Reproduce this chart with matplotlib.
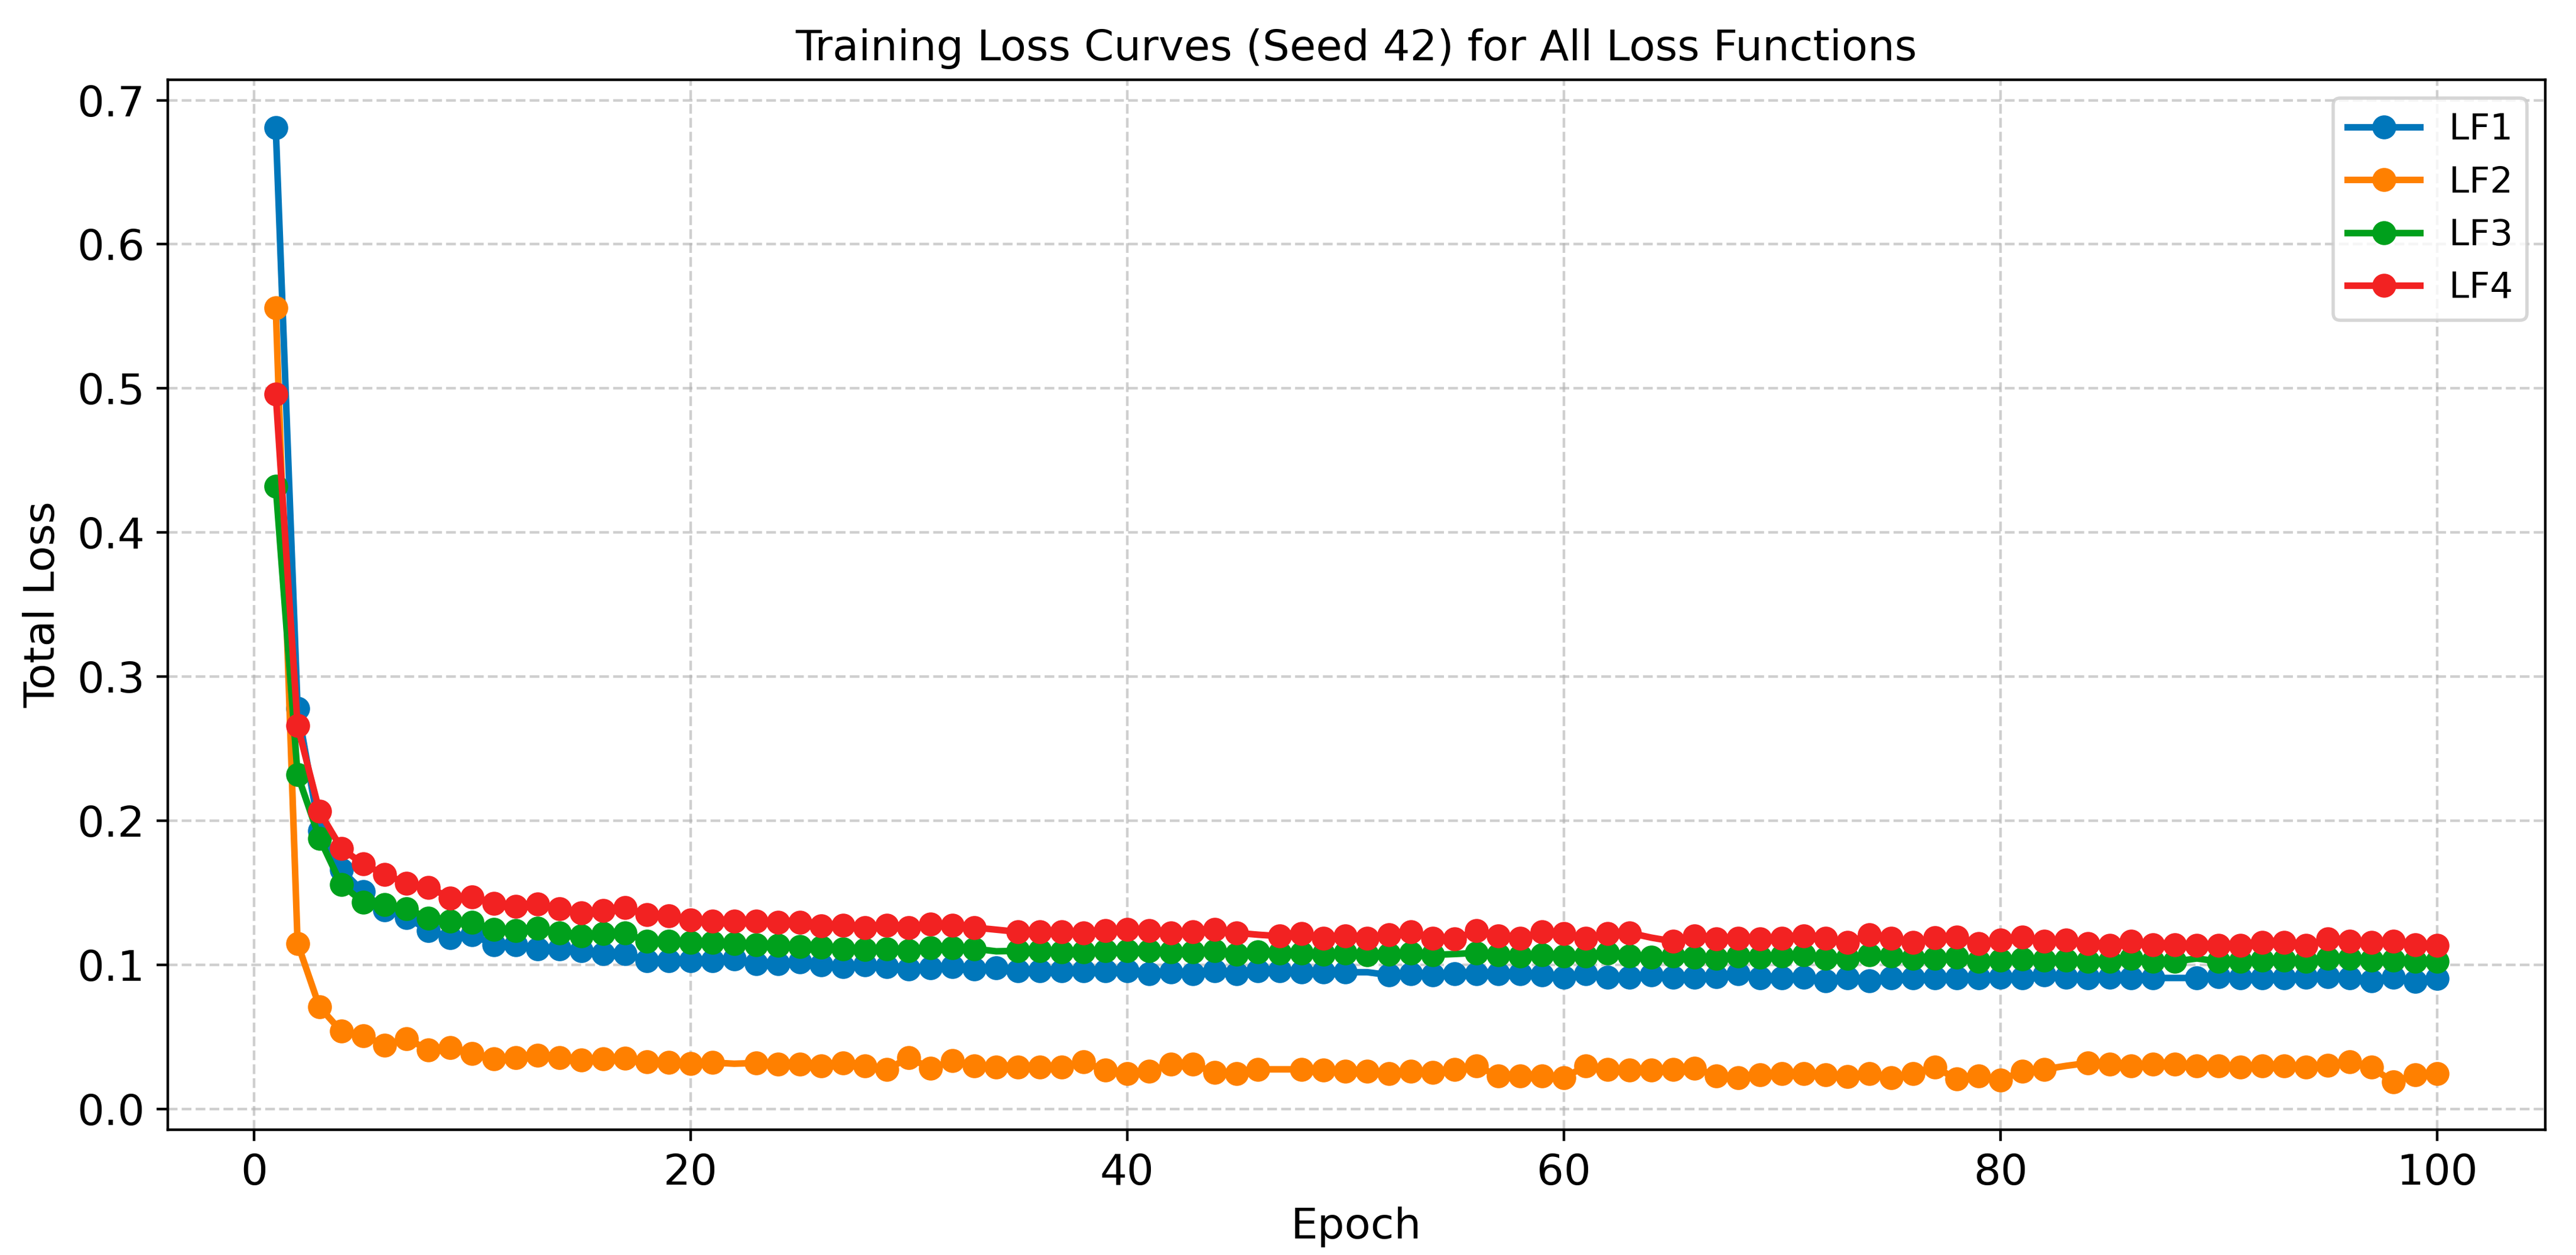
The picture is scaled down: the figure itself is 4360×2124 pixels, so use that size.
import matplotlib
matplotlib.use("Agg")
import matplotlib.pyplot as plt

# Epochs and per-epoch total loss
epochs = list(range(1, 101))

lf1 = [0.681, 0.278, 0.193, 0.166, 0.151, 0.138, 0.133, 0.124, 0.119, 0.121,
       0.114, 0.114, 0.111, 0.111, 0.110, 0.108, 0.108, 0.103, 0.103, 0.103,
       0.103, 0.104, 0.101, 0.101, 0.102, 0.100, 0.099, 0.100, 0.099, 0.097,
       0.098, 0.099, 0.097, 0.098, 0.096, 0.096, 0.096, 0.096, 0.096, 0.096,
       0.094, 0.095, 0.094, 0.096, 0.094, 0.096, 0.096, 0.095, 0.095, 0.095,
       0.095, 0.093, 0.094, 0.093, 0.094, 0.094, 0.094, 0.094, 0.093, 0.0915,
       0.094, 0.0915, 0.0915, 0.093, 0.0915, 0.0915, 0.092, 0.094, 0.091, 0.091,
       0.0915, 0.089, 0.091, 0.089, 0.091, 0.091, 0.091, 0.091, 0.091, 0.0915,
       0.091, 0.093, 0.0915, 0.091, 0.0915, 0.091, 0.091, 0.091, 0.091, 0.092,
       0.091, 0.091, 0.091, 0.0915, 0.092, 0.091, 0.089, 0.0915, 0.0885, 0.0907]

lf2 = [0.556, 0.115, 0.071, 0.054, 0.051, 0.0445, 0.049, 0.041, 0.0426, 0.0386,
       0.035, 0.0357, 0.0372, 0.0357, 0.0342, 0.035, 0.0352, 0.0327, 0.0323, 0.0317,
       0.0323, 0.0315, 0.032, 0.0313, 0.0313, 0.030, 0.032, 0.0298, 0.0276, 0.0357,
       0.0283, 0.0335, 0.0298, 0.029, 0.029, 0.029, 0.029, 0.0327, 0.0269, 0.0247,
       0.0261, 0.0313, 0.0313, 0.0254, 0.0247, 0.0276, 0.0276, 0.0276, 0.0269, 0.0261,
       0.0261, 0.0247, 0.0261, 0.0254, 0.0276, 0.0298, 0.0232, 0.0232, 0.0232, 0.0217,
       0.0298, 0.0276, 0.0269, 0.0269, 0.0276, 0.0283, 0.0232, 0.0217, 0.0239, 0.0247,
       0.0247, 0.0239, 0.0225, 0.0247, 0.0217, 0.0247, 0.029, 0.021, 0.0232, 0.0203,
       0.0261, 0.0276, 0.030, 0.032, 0.0313, 0.0298, 0.0313, 0.0313, 0.0298, 0.0298,
       0.029, 0.0298, 0.0298, 0.029, 0.0305, 0.0327, 0.029, 0.0188, 0.0239, 0.0247]

lf3 = [0.432, 0.232, 0.188, 0.156, 0.1436, 0.142, 0.139, 0.1326, 0.1304, 0.1297,
       0.1245, 0.1238, 0.1253, 0.1223, 0.120, 0.1216, 0.1223, 0.1164, 0.1164, 0.1157,
       0.1157, 0.115, 0.1142, 0.1135, 0.1128, 0.1125, 0.1113, 0.1106, 0.1113, 0.1098,
       0.112, 0.112, 0.1113, 0.1095, 0.1098, 0.1098, 0.109, 0.109, 0.1098, 0.1098,
       0.1098, 0.109, 0.109, 0.1098, 0.1076, 0.109, 0.1084, 0.1084, 0.1076, 0.1084,
       0.107, 0.1076, 0.1084, 0.107, 0.1076, 0.1084, 0.107, 0.1062, 0.107, 0.1062,
       0.1062, 0.1084, 0.1062, 0.1054, 0.1062, 0.1054, 0.1047, 0.1062, 0.1054, 0.1062,
       0.107, 0.1047, 0.1047, 0.107, 0.1062, 0.1047, 0.1047, 0.1054, 0.1025, 0.1032,
       0.104, 0.1032, 0.1032, 0.1025, 0.1025, 0.1047, 0.1025, 0.1025, 0.1045, 0.1025,
       0.1025, 0.1032, 0.1032, 0.1025, 0.1047, 0.1047, 0.1032, 0.1032, 0.1025, 0.1025]

lf4 = [0.496, 0.266, 0.2065, 0.181, 0.170, 0.1627, 0.1568, 0.1539, 0.1465, 0.1473,
       0.1429, 0.1407, 0.1421, 0.1392, 0.1363, 0.1377, 0.1399, 0.1348, 0.1341, 0.1311,
       0.1304, 0.1304, 0.1304, 0.1297, 0.1297, 0.1271, 0.1275, 0.126, 0.1275, 0.126,
       0.1282, 0.1275, 0.126, 0.1245, 0.123, 0.123, 0.123, 0.1223, 0.1238, 0.1245,
       0.1238, 0.1223, 0.123, 0.1245, 0.1223, 0.121, 0.120, 0.1216, 0.1186, 0.120,
       0.1186, 0.1209, 0.123, 0.1186, 0.118, 0.1238, 0.120, 0.1186, 0.123, 0.1216,
       0.1186, 0.1216, 0.1223, 0.119, 0.1164, 0.120, 0.118, 0.1186, 0.118, 0.1186,
       0.120, 0.1186, 0.1157, 0.121, 0.1186, 0.1157, 0.119, 0.1194, 0.115, 0.1172,
       0.1194, 0.1164, 0.1172, 0.115, 0.1135, 0.1164, 0.1142, 0.1142, 0.1135, 0.1135,
       0.1135, 0.1157, 0.1157, 0.1135, 0.118, 0.1164, 0.1157, 0.1164, 0.1142, 0.1135]

labels = ["LF1", "LF2", "LF3", "LF4"]
colors = ["#0077bb", "#ff8000", "#00a01c", "#f22222"]
# epochs whose marker is absent in the reference
no_marker = [[51, 88], [22, 47, 83], [34, 55, 89], [34, 46, 64]]

fig = plt.figure(figsize=(10.9, 5.31))
ax = fig.add_axes([0.0651, 0.0998, 0.9229, 0.8366])

for ys, lab, col, skip in zip([lf1, lf2, lf3, lf4], labels, colors, no_marker):
    marks = [i for i, e in enumerate(epochs) if e not in skip]
    ax.plot(epochs, ys, marker="o", markersize=6.3, linewidth=2,
            color=col, label=lab, markevery=marks)

ax.set_title("Training Loss Curves (Seed 42) for All Loss Functions", fontsize=13)
ax.set_xlabel("Epoch", fontsize=13)
ax.set_ylabel("Total Loss", fontsize=13)
ax.tick_params(labelsize=13)
ax.grid(True, linestyle="--", alpha=0.6)
ax.legend(loc="upper right", fontsize=11)

fig.savefig("out.png", dpi=400)
